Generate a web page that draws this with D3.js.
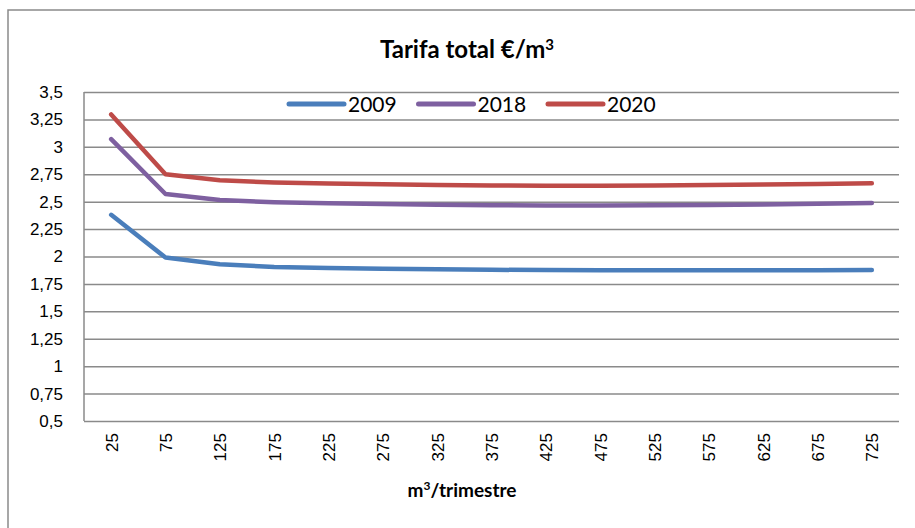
<!DOCTYPE html>
<html>
<head>
<meta charset="utf-8">
<script src="https://cdn.jsdelivr.net/npm/d3@7"></script>
<style>
  body { margin: 0; background: #fff; }
  svg { display: block; font-family: Lato, "Open Sans", sans-serif; }
</style>
</head>
<body>
<div id="chart"></div>
<script>
// data
const categories = ["25", "75", "125", "175", "225", "275", "325", "375", "425", "475", "525", "575", "625", "675", "725"];
const s2009 = [2.38, 1.99, 1.93, 1.905, 1.895, 1.888, 1.883, 1.879, 1.876, 1.874, 1.874, 1.875, 1.875, 1.875, 1.876];
const s2018 = [3.07, 2.57, 2.515, 2.495, 2.485, 2.478, 2.472, 2.468, 2.466, 2.466, 2.467, 2.47, 2.475, 2.48, 2.488];
const s2020 = [3.295, 2.75, 2.695, 2.675, 2.665, 2.658, 2.652, 2.648, 2.645, 2.645, 2.648, 2.652, 2.657, 2.662, 2.668];
const yTicks = [0.5, 0.75, 1, 1.25, 1.5, 1.75, 2, 2.25, 2.5, 2.75, 3, 3.25, 3.5];
const seriesNames = ["2009", "2018", "2020"];
const seriesColors = ["#4a7ebb", "#7e60a0", "#be4b48"];

let width = 915,
    height = 528,
    margin = { top: 92, right: 16, bottom: 107, left: 84 };

const svg = d3.select("#chart")
    .append("svg")
    .attr("width", width)
    .attr("height", height);

// outer chart border (runs off the right and bottom edges)
svg.append("rect")
    .attr("x", 8)
    .attr("y", 10)
    .attr("width", 940)
    .attr("height", 560)
    .attr("fill", "none")
    .attr("stroke", "#8a8a8a")
    .attr("stroke-width", 1.5);

let x = d3.scalePoint()
    .domain(categories)
    .range([margin.left, width - margin.right])
    .padding(0.5);

let y = d3.scaleLinear()
    .domain([0.5, 3.5])
    .range([height - margin.bottom, margin.top]);

const fmt = (d) => String(d).replace(".", ",");

// gridlines + y labels
svg.append("g")
    .attr("class", "y-axis")
    .attr("transform", `translate(${margin.left},0)`)
    .call(d3.axisLeft(y).tickValues(yTicks).tickFormat(fmt)
        .tickSize(-(width - margin.left - margin.right)).tickPadding(21))
    .call((g) => g.select(".domain").remove())
    .call((g) => g.selectAll("line").attr("stroke", "#8a8a8a").attr("stroke-width", 1.5))
    .call((g) => g.selectAll("text").attr("fill", "#000").style("font-size", "17px"));

// left axis line
svg.append("line")
    .attr("x1", margin.left)
    .attr("x2", margin.left)
    .attr("y1", y(3.5))
    .attr("y2", y(0.5))
    .attr("stroke", "#8a8a8a")
    .attr("stroke-width", 1.5);

// x labels, rotated
svg.append("g")
    .attr("class", "x-axis")
    .attr("transform", `translate(0,${height - margin.bottom})`)
    .call(d3.axisBottom(x).tickSize(0))
    .call((g) => g.select(".domain").remove())
    .call((g) => g.selectAll("text")
        .attr("fill", "#000")
        .style("font-size", "17px")
        .attr("text-anchor", "end")
        .attr("transform", "rotate(-90)")
        .attr("x", -12)
        .attr("y", 0)
        .attr("dy", "0.35em"));

// series
const series = [s2009, s2018, s2020];
const line = d3.line()
    .x((d, i) => x(categories[i]))
    .y((d) => y(d));

svg.append("g")
    .selectAll("path")
    .data(series)
    .join("path")
    .attr("d", (d) => line(d))
    .attr("fill", "none")
    .attr("stroke", (d, i) => seriesColors[i])
    .attr("stroke-width", 4.5)
    .attr("stroke-linecap", "round")
    .attr("stroke-linejoin", "round");

// legend
const legend = svg.append("g")
    .attr("transform", "translate(289,104)");
const item = legend.selectAll("g")
    .data(seriesNames)
    .join("g")
    .attr("transform", (d, i) => `translate(${i * 129.5},0)`);
item.append("line")
    .attr("x1", 0)
    .attr("x2", 55)
    .attr("stroke", (d, i) => seriesColors[i])
    .attr("stroke-width", 5)
    .attr("stroke-linecap", "round");
item.append("text")
    .attr("x", 59)
    .attr("dy", "0.36em")
    .style("font-size", "21px")
    .text((d) => d);

// titles
svg.append("text")
    .attr("x", 467)
    .attr("y", 58)
    .attr("text-anchor", "middle")
    .style("font-size", "24px")
    .style("font-weight", "bold")
    .html("Tarifa total €/m<tspan dy='-8' style='font-size:15px'>3</tspan>");

svg.append("text")
    .attr("x", 462)
    .attr("y", 497)
    .attr("text-anchor", "middle")
    .style("font-size", "19px")
    .style("font-weight", "bold")
    .html("m<tspan dy='-7' style='font-size:12px'>3</tspan><tspan dy='7'>/trimestre</tspan>");
</script>
</body>
</html>
